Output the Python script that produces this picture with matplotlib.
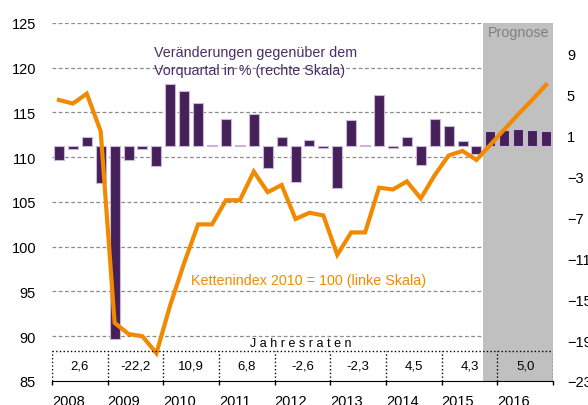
import numpy as np
import matplotlib
matplotlib.use("Agg")
import matplotlib.pyplot as plt

plt.rcParams["font.family"] = ["Liberation Sans", "DejaVu Sans"]

# quarterly data 2008Q1 .. 2016Q4
YEARS = list(range(2008, 2017))
qoq = [-1.4, -0.3, 0.9, -3.6, -18.9, -1.4, -0.3, -2.0,
       6.0, 5.4, 4.2, 0.1, 2.6, 0.05, 3.1, -2.2,
       0.85, -3.5, 0.6, -0.2, -4.1, 2.5, 0.05, 5.0,
       -0.2, 0.85, -1.9, 2.6, 1.9, 0.5, -0.8, 1.4,
       1.55, 1.6, 1.5, 1.4]
index = [116.4, 116.0, 117.1, 112.9, 91.5, 90.25, 90.0, 88.1,
         93.5, 98.2, 102.5, 102.5, 105.2, 105.2, 108.4, 106.1,
         106.9, 103.1, 103.8, 103.5, 99.1, 101.6, 101.6, 106.6,
         106.4, 107.3, 105.4, 108.0, 110.2, 110.7, 109.7, 111.4,
         113.1, 114.8, 116.4, 118.1]
annual = ["2,6", "-22,2", "10,9", "6,8", "-2,6", "-2,3", "4,5", "4,3", "5,0"]
forecast_start = 2015.75

PURPLE = "#452059"
ORANGE = "#F18A00"
GREY = "#C0C0C0"

x = 2008 + (np.arange(len(qoq)) + 0.5) / 4

fig = plt.figure(figsize=(5.88, 4.06), dpi=100)
ax2 = fig.add_axes([52 / 588, 24 / 406, 501 / 588, 358 / 406])
ax = ax2.twinx()
ax.set_zorder(ax2.get_zorder() + 1)
ax.patch.set_visible(False)

ax.set_xlim(2008, 2017)
ax.set_ylim(85, 125)
ax2.set_ylim(-23, 12)

# forecast shading and grid (behind bars)
ax2.axvspan(forecast_start, 2017, color=GREY, zorder=1, lw=0)
for g in range(90, 126, 5):
    ax2.plot([2008, forecast_start], [g, g], transform=ax.transData,
             color="#8c8c8c", ls=(0, (3, 2)), lw=0.9, zorder=0.5)

ax2.bar(x, qoq, width=0.18, color=PURPLE, edgecolor="#C9B6D9", lw=0.8, zorder=2)
ax.plot(x, index, color=ORANGE, lw=3, zorder=3, solid_joinstyle="miter")

# Jahresraten table
top = 88.35
for xv in range(2008, 2018):
    ax.plot([xv, xv], [85, top], color="black", ls=":", lw=1, zorder=4)
ax.plot([2008, 2017], [top, top], color="black", ls=":", lw=1, zorder=4)
for yr, val in zip(YEARS, annual):
    ax.text(yr + 0.5, 86.7, val, ha="center", va="center", fontsize=9.5, zorder=5)
ax.text(2012.46, 89.25, "J a h r e s r a t e n", ha="center", va="center",
        fontsize=9, zorder=5)

# axes styling (pads in points: 100 dpi -> 0.72 pt per px)
ax.set_yticks(range(85, 126, 5))
ax2.set_yticks(range(-23, 10, 4))
ax.yaxis.tick_left()
ax2.yaxis.tick_right()
ax.tick_params(axis="y", length=0, pad=11.5, labelsize=10.5)
ax2.tick_params(axis="y", length=0, pad=10, labelsize=10.5)
ax2.set_xticks(range(2008, 2018))
ax2.set_xticklabels([str(y) for y in YEARS] + [""], ha="left")
ax2.tick_params(axis="x", direction="out", length=3, width=1, pad=6.5, labelsize=10.5)
for a in (ax, ax2):
    for s in ("top", "left", "right"):
        a.spines[s].set_visible(False)
ax.spines["bottom"].set_visible(False)
ax2.spines["bottom"].set_color("black")

# annotations
ax.text(2009.83, 122.5, "Veränderungen gegenüber dem\nVorquartal in % (rechte Skala)",
        color="#4B2C6B", fontsize=10.3, ha="left", va="top", linespacing=1.3)
ax.text(2010.5, 96.3, "Kettenindex 2010 = 100 (linke Skala)", color=ORANGE,
        fontsize=10.3, ha="left", va="center")
ax.text(2016.38, 124.0, "Prognose", color="#7F7F7F", fontsize=10.3,
        ha="center", va="center")

fig.savefig("out.png", dpi=100)
